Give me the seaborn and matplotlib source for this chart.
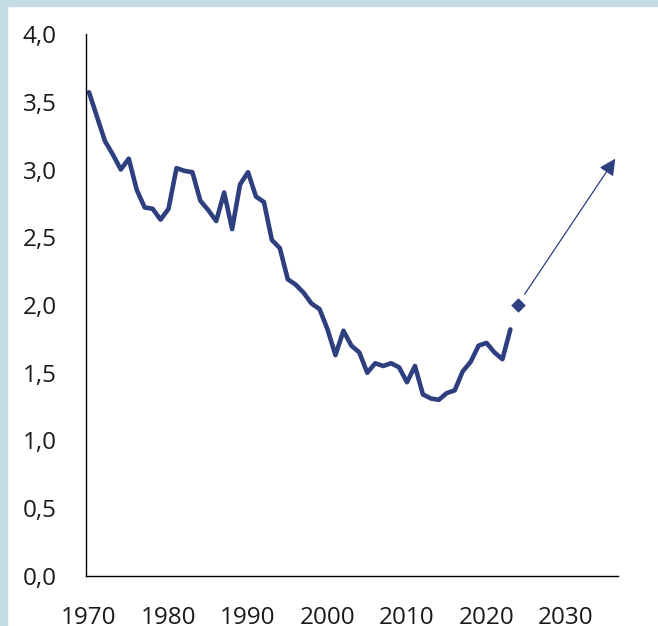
import numpy as np
import pandas as pd
import matplotlib
matplotlib.use("Agg")
import matplotlib.pyplot as plt
from matplotlib.ticker import FuncFormatter, FixedLocator
from matplotlib.patches import Rectangle
import seaborn as sns

# ---- data ----
years = list(range(1970, 2024))
values = [3.57, 3.39, 3.21, 3.11, 3.00, 3.08, 2.85, 2.72, 2.71, 2.63,
          2.71, 3.01, 2.99, 2.98, 2.77, 2.70, 2.62, 2.83, 2.56, 2.89,
          2.98, 2.80, 2.76, 2.48, 2.42, 2.19, 2.15, 2.09, 2.01, 1.97,
          1.82, 1.63, 1.81, 1.70, 1.65, 1.50, 1.57, 1.55, 1.57, 1.54,
          1.43, 1.55, 1.34, 1.31, 1.30, 1.35, 1.37, 1.51, 1.58, 1.70,
          1.72, 1.65, 1.60, 1.82]
point_year = [2024]
point_value = [2.0]
arrow_start = (2024.8, 2.08)
arrow_end = (2036.2, 3.08)
x_ticks = [1970, 1980, 1990, 2000, 2010, 2020, 2030]
y_ticks = [0.0, 0.5, 1.0, 1.5, 2.0, 2.5, 3.0, 3.5, 4.0]

NAVY = "#2E3F80"
FRAME = "#C3DBE5"

sns.set_style("white")
plt.rcParams["font.family"] = ["Open Sans", "DejaVu Sans"]

fig = plt.figure(figsize=(6.58, 6.26), dpi=100)
# light blue frame at top and left
fig.patches.append(Rectangle((0, 1 - 6 / 626), 1, 6 / 626, transform=fig.transFigure,
                             color=FRAME, zorder=0))
fig.patches.append(Rectangle((0, 0), 7 / 658, 1, transform=fig.transFigure,
                             color=FRAME, zorder=0))

ax = fig.add_axes([86 / 658, 50 / 626, (618 - 86) / 658, (576 - 34) / 626])

df = pd.DataFrame({"year": years, "value": values})
sns.lineplot(data=df, x="year", y="value", ax=ax, color=NAVY, linewidth=3.3)
pdf = pd.DataFrame({"year": point_year, "value": point_value})
sns.scatterplot(data=pdf, x="year", y="value", ax=ax, color=NAVY, marker="D",
                s=55, edgecolor=NAVY, linewidth=0)

ax.annotate("", xy=arrow_end, xytext=arrow_start,
            arrowprops=dict(arrowstyle="-|>,head_length=1.0,head_width=0.5",
                            color=NAVY, lw=0.9, shrinkA=0, shrinkB=0))

ax.set_xlim(1969.62, 2036.54)
ax.set_ylim(0, 4.0)
ax.xaxis.set_major_locator(FixedLocator(x_ticks))
ax.yaxis.set_major_locator(FixedLocator(y_ticks))
ax.yaxis.set_major_formatter(FuncFormatter(lambda v, p: f"{v:.1f}".replace(".", ",")))
ax.xaxis.set_major_formatter(FuncFormatter(lambda v, p: f"{int(v)}"))
ax.tick_params(axis="both", length=0, labelsize=17.5, colors="#1a1a1a")
ax.tick_params(axis="y", pad=21)
ax.tick_params(axis="x", pad=21.5)
ax.set_xlabel("")
ax.set_ylabel("")
for s in ["top", "right"]:
    ax.spines[s].set_visible(False)
for s in ["left", "bottom"]:
    ax.spines[s].set_color("black")
    ax.spines[s].set_linewidth(1.0)
ax.set_facecolor("white")

fig.savefig("out.png", dpi=100)
